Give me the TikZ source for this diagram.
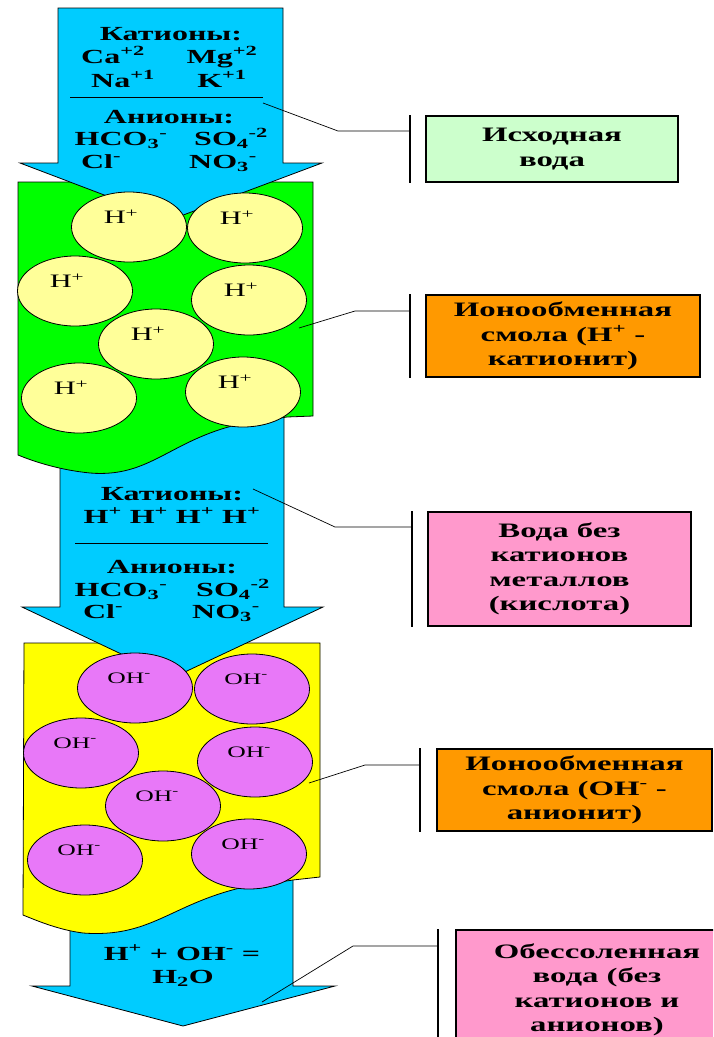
\documentclass[tikz,border=0pt]{standalone}
\usepackage{fontspec}
\setmainfont{Liberation Serif}[FakeStretch=1.6]
\usetikzlibrary{shapes.geometric}
\definecolor{flowblue}{HTML}{00CCFF}
\definecolor{resinH}{HTML}{00FF00}
\definecolor{beadH}{HTML}{FFFF99}
\definecolor{resinOH}{HTML}{FFFF00}
\definecolor{beadOH}{HTML}{E878F8}
\definecolor{srcgreen}{HTML}{CCFFCC}
\definecolor{resorange}{HTML}{FF9900}
\definecolor{outpink}{HTML}{FF99CC}

\begin{document}
\begin{tikzpicture}[x=1pt, y=-1pt,
			flow/.style={fill=flowblue, draw=black, line width=0.8pt},
			resin/.style={draw=black, line width=0.8pt},
			bead/.style={ellipse, draw=black, line width=0.8pt, minimum width=115pt, minimum height=70pt, inner sep=0pt},
			ion/.style={font=\fontsize{20}{23}\selectfont\bfseries, anchor=base, inner sep=0pt},
			beadlbl/.style={font=\fontsize{19}{22}\selectfont, inner sep=0pt},
			info/.style={draw=black, line width=1.2pt, align=center, inner sep=2pt, font=\fontsize{20.5}{24.5}\selectfont\bfseries},
			lead/.style={draw=black, line width=0.7pt},
			bar/.style={draw=black, line width=1.4pt}
			]
			\useasboundingbox (0,0) rectangle (713,1037);
			\clip (0,0) rectangle (713,1037);
			% flow arrows and resin beds, lowest first
			\path[flow] (70,870) -- (293,870) -- (293,986) -- (335,986) -- (183,1026) -- (32,986) -- (70,986) -- cycle;
			\path[resin, fill=resinOH] (24,643) -- (320,643) -- (320,877) -- (293,880) -- (240,888) .. controls (170,905) and (150,938) .. (83,933) .. controls (60,930) and (40,922) .. (23,915) -- cycle;
			\path[flow] (60,400) -- (284,400) -- (284,607) -- (323,607) -- (172,678) -- (22,607) -- (60,607) -- cycle;
			\path[resin, fill=resinH] (18,182) -- (313,182) -- (313,416) -- (287,417) -- (240,424) .. controls (170,440) and (150,478) .. (90,473) .. controls (60,470) and (35,462) .. (18,455) -- cycle;
			\path[flow] (58,8) -- (283,8) -- (283,163) -- (322,163) -- (170,220) -- (20,163) -- (58,163) -- cycle;
			% beads
			\foreach \x/\y [count=\i] in {129/227, 245/228, 75/291, 249/300, 156/344, 79/398, 243/392} {
				\node[bead, fill=beadH] (h\i) at (\x,\y) {};
				\node[beadlbl] (hl\i) at ([xshift=-8pt, yshift=10pt]h\i.center) {H\textsuperscript{+}};
			}
			\foreach \x/\y [count=\i] in {135/688, 252/689, 81/753, 255/762, 163/806, 85/860, 249/854} {
				\node[bead, fill=beadOH] (oh\i) at (\x,\y) {};
				\node[beadlbl, font=\fontsize{16}{19}\selectfont] (ohl\i) at ([xshift=-6pt, yshift=10pt]oh\i.center) {OH\textsuperscript{-}};
			}
			% raw water
			\node[ion] (cat1) at (171,40) {Катионы:};
			\node[ion] (ca) at (113,63) {Ca\textsuperscript{+2}};
			\node[ion] (mg) at (222,63) {Mg\textsuperscript{+2}};
			\node[ion] (na) at (123,87) {Na\textsuperscript{+1}};
			\node[ion] (kk) at (222,87) {K\textsuperscript{+1}};
			\coordinate (rule1a) at (70,97); \coordinate (rule1b) at (263,97);
			\draw[lead] (rule1a) -- (rule1b);
			\node[ion] (an1) at (169,123) {Анионы:};
			\node[ion] (hco1) at (121,145) {HCO\textsubscript{3}\textsuperscript{-}};
			\node[ion] (so1) at (231,145) {SO\textsubscript{4}\textsuperscript{-2}};
			\node[ion] (cl1) at (101,168) {Cl\textsuperscript{-}};
			\node[ion] (no1) at (223,168) {NO\textsubscript{3}\textsuperscript{-}};
			% acid water
			\node[ion] (cat2) at (172,500) {Катионы:};
			\node[ion] (hhh) at (172,523) {H\textsuperscript{+} H\textsuperscript{+} H\textsuperscript{+} H\textsuperscript{+}};
			\coordinate (rule2a) at (75,543); \coordinate (rule2b) at (268,543);
			\draw[lead] (rule2a) -- (rule2b);
			\node[ion] (an2) at (172,573) {Анионы:};
			\node[ion] (hco2) at (121,596) {HCO\textsubscript{3}\textsuperscript{-}};
			\node[ion] (so2) at (233,596) {SO\textsubscript{4}\textsuperscript{-2}};
			\node[ion] (cl2) at (103,618) {Cl\textsuperscript{-}};
			\node[ion] (no2) at (226,618) {NO\textsubscript{3}\textsuperscript{-}};
			% product
			\node[ion] (eq1) at (182,960) {H\textsuperscript{+} + OH\textsuperscript{-} =};
			\node[ion] (eq2) at (183,983) {H\textsubscript{2}O};
			% captions
			\node[info, fill=srcgreen, minimum width=252pt, minimum height=66pt] (src) at (552,149) {Исходная\\вода};
			\node[info, fill=resorange, minimum width=274pt, minimum height=82pt] (resh) at (563,336) {Ионообменная\\смола (H\textsuperscript{+} -\\катионит)};
			\node[info, fill=outpink, minimum width=263pt, minimum height=114pt] (acid) at (559.5,569) {Вода без\\катионов\\металлов\\(кислота)};
			\node[info, fill=resorange, minimum width=275pt, minimum height=82pt] (resoh) at (574.5,790) {Ионообменная\\смола (OH\textsuperscript{-} -\\анионит)};
			\node[info, fill=outpink, minimum width=282pt, minimum height=120pt] (pure) at (597,990) {Обессоленная\\вода (без\\катионов и\\анионов)};
			% leaders
			\coordinate (p1) at (263,103); \coordinate (k1) at (338,131); \coordinate (b1) at (410,131);
			\coordinate (p2) at (299,328); \coordinate (k2) at (355,311); \coordinate (b2) at (410,311);
			\coordinate (p3) at (253,489); \coordinate (k3) at (335,527); \coordinate (b3) at (412,527);
			\coordinate (p4) at (309,783); \coordinate (k4) at (365,765); \coordinate (b4) at (420,765);
			\coordinate (p5) at (262,1002); \coordinate (k5) at (353,946); \coordinate (b5) at (438,946);
			\foreach \n/\cap in {1/src, 2/resh, 3/acid, 4/resoh, 5/pure} {
				\draw[lead] (p\n) -- (k\n) -- (b\n);
				\draw[bar] (b\n |- \cap.north) -- (b\n |- \cap.south);
			}
		\end{tikzpicture}
\end{document}
